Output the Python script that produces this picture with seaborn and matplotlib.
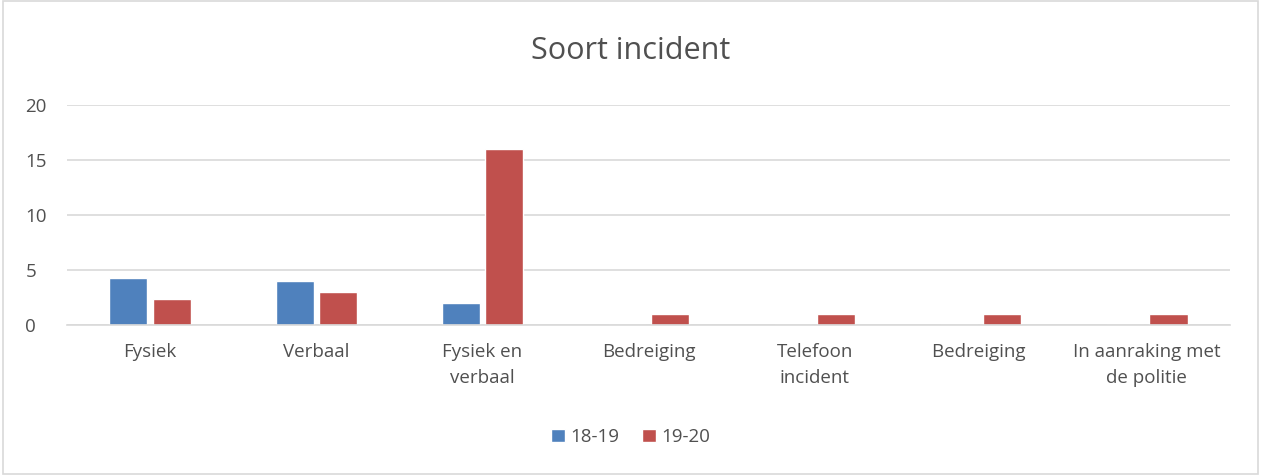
import matplotlib

matplotlib.use("Agg", force=True)
import matplotlib.pyplot as plt
import pandas as pd
import seaborn as sns

CATEGORIES = [
    "Fysiek",
    "Verbaal",
    "Fysiek en\nverbaal",
    "Bedreiging",
    "Telefoon\nincident",
    "Bedreiging ",
    "In aanraking met\nde politie",
]
SERIES = ["18-19", "19-20"]
VALUES_1819 = [4.3, 4.0, 2.0, 0, 0, 0, 0]
VALUES_1920 = [2.4, 3.0, 16.0, 1.0, 1.0, 1.0, 1.0]
COLORS = ["#4F81BD", "#C0504D"]
YTICKS = [0, 5, 10, 15, 20]


def build_frame() -> pd.DataFrame:
    rows = []
    for cat, a, b in zip(CATEGORIES, VALUES_1819, VALUES_1920):
        rows.append({"cat": cat, "season": SERIES[0], "value": a})
        rows.append({"cat": cat, "season": SERIES[1], "value": b})
    return pd.DataFrame(rows)


def main() -> None:
    sns.set_theme(style="white")
    plt.rcParams["font.family"] = ["Open Sans", "DejaVu Sans"]
    text_col = "#505050"

    fig = plt.figure(figsize=(12.61, 4.75), dpi=100)
    ax = fig.add_axes([0.0531, 0.3158, 0.9223, 0.4631])

    df = build_frame()
    sns.barplot(data=df, x="cat", y="value", hue="season", order=CATEGORIES,
                hue_order=SERIES, palette=COLORS, width=0.52, gap=0.12,
                saturation=1, ax=ax, legend=True)

    ax.set_ylim(0, 20)
    ax.set_yticks(YTICKS)
    ax.set_xlim(-0.5, len(CATEGORIES) - 0.5)
    ax.yaxis.grid(True, color="#D9D9D9", linewidth=1.2)
    ax.set_axisbelow(True)
    for side in ["top", "right", "left"]:
        ax.spines[side].set_visible(False)
    ax.spines["bottom"].set_color("#D9D9D9")
    ax.spines["bottom"].set_linewidth(1.2)
    ax.tick_params(axis="both", length=0, labelsize=13.5, colors=text_col)
    ax.tick_params(axis="x", pad=13)
    ax.tick_params(axis="y", pad=30)
    for lab in ax.get_yticklabels():
        lab.set_horizontalalignment("left")
    for lab in ax.get_xticklabels():
        lab.set_linespacing(1.6)
    ax.set_xlabel("")
    ax.set_ylabel("")

    fig.text(0.5, 0.893, "Soort incident", ha="center", va="center",
             fontsize=22, color=text_col)

    handles, labels = ax.get_legend_handles_labels()
    ax.legend_.remove()
    fig.legend(handles, labels, loc="center", bbox_to_anchor=(0.5, 0.08),
               ncol=2, frameon=False, fontsize=13.5, handlelength=0.75,
               handleheight=0.75, handletextpad=0.3, columnspacing=1.2,
               labelcolor=text_col)

    border = plt.Rectangle((0.002, 0.002), 0.996, 0.996, transform=fig.transFigure,
                           fill=False, edgecolor="#D9D9D9", linewidth=1.2)
    fig.patches.append(border)

    fig.savefig("out.png", dpi=100)
    plt.close(fig)


if __name__ == "__main__":
    main()
